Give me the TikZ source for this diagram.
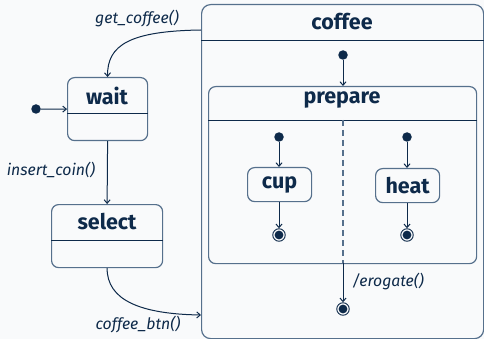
\documentclass[tikz,border=0pt]{standalone}
\usepackage{fontspec}
\setmainfont{Fira Sans}
\usetikzlibrary{arrows.meta,calc}
\definecolor{ink}{HTML}{0E2A4A}
\definecolor{frame}{HTML}{56708C}
\definecolor{paper}{HTML}{F9FAFB}
\tikzset{
  x=1pt,y=-1pt,
  statebox/.style={draw=frame,line width=1.2pt,rounded corners=7pt,inner sep=0pt,anchor=north west},
  sepline/.style={draw=ink,line width=0.9pt},
  title/.style={text=ink,font=\bfseries\fontsize{21.5}{24}\selectfont,inner sep=0pt},
  lbl/.style={text=ink,font=\itshape\fontsize{15.8}{18}\selectfont,inner sep=1pt},
  startdot/.style={circle,fill=ink,minimum size=9.5pt,inner sep=0pt},
  enddot/.style={circle,draw=ink,line width=0.9pt,fill=paper,minimum size=12.5pt,inner sep=0pt,
    path picture={\fill[ink] (path picture bounding box.center) circle (4.4pt);}},
  trans/.style={draw=ink,line width=1pt,-{Straight Barb[length=3.5pt,width=6pt]}},
}
\begin{document}
\begin{tikzpicture}
\fill[paper] (0,0) rectangle (484,339);
\useasboundingbox (0,0) rectangle (484,339);

% composite state coffee
\node[statebox,rounded corners=9pt,minimum width=282pt,minimum height=334pt] (coffee) at (201,4) {};
\draw[sepline] ([yshift=-36pt]coffee.north west) -- ([yshift=-36pt]coffee.north east);
\node[title] (coffeeT) at (342,22) {coffee};

% region prepare with two orthogonal regions
\node[statebox,minimum width=268pt,minimum height=177pt] (prepare) at (208,86) {};
\draw[sepline] ([yshift=-34pt]prepare.north west) -- ([yshift=-34pt]prepare.north east);
\node[title] (prepareT) at (342,100) {prepare};

% simple states
\node[statebox,minimum width=80pt,minimum height=63pt] (wait) at (67,77) {};
\draw[sepline] ([yshift=-36pt]wait.north west) -- ([yshift=-36pt]wait.north east);
\node[title] (waitT) at (107,96) {wait};

\node[statebox,minimum width=111pt,minimum height=63pt] (select) at (51,204) {};
\draw[sepline] ([yshift=-36pt]select.north west) -- ([yshift=-36pt]select.north east);
\node[title] (selectT) at (107,222) {select};

\node[statebox,minimum width=64pt,minimum height=34pt] (cup) at (247,167) {};
\node[title] (cupT) at (cup.center) {cup};
\node[statebox,minimum width=64pt,minimum height=34pt] (heat) at (375,168) {};
\node[title] (heatT) at (heat.center) {heat};

% pseudo states
\node[startdot] (i0) at (36,109) {};
\node[startdot] (i1) at (343,55) {};
\node[startdot] (i2) at (279,137) {};
\node[startdot] (i3) at (407,137) {};
\node[enddot] (f2) at (279,235) {};
\node[enddot] (f3) at (407,235) {};
\node[enddot] (f1) at (343,309) {};

% region divider
\coordinate (dtop) at (343,120);
\coordinate (dbot) at (343,263);
\draw[frame,line width=1.2pt,dash pattern=on 6pt off 4pt] (dtop) -- (dbot);

% transitions
\draw[trans] (i0) -- (wait.west);
\draw[trans] (i1) -- (i1 |- prepare.north);
\draw[trans] (i2) -- (i2 |- cup.north);
\draw[trans] (i3) -- (i3 |- heat.north);
\draw[trans] (cup.south -| f2) -- (f2);
\draw[trans] (heat.south -| f3) -- (f3);
\draw[trans] (dbot) -- (f1);
\draw[trans] (wait.south) -- (select.north);
\coordinate (gc) at (201,30);
\draw[trans] (gc) .. controls (130,31) and (107,45) .. (wait.north);
\coordinate (cb) at (201,315);
\draw[trans] (select.south) .. controls (107,300) and (140,314) .. (cb);

% transition labels
\node[lbl] (lgc) at (137,19) {get\_coffee()};
\node[lbl] (lic) at (51,170) {insert\_coin()};
\node[lbl] (lcb) at (138,324) {coffee\_btn()};
\node[lbl] (ler) at (388,282) {/erogate()};
\end{tikzpicture}
\end{document}
